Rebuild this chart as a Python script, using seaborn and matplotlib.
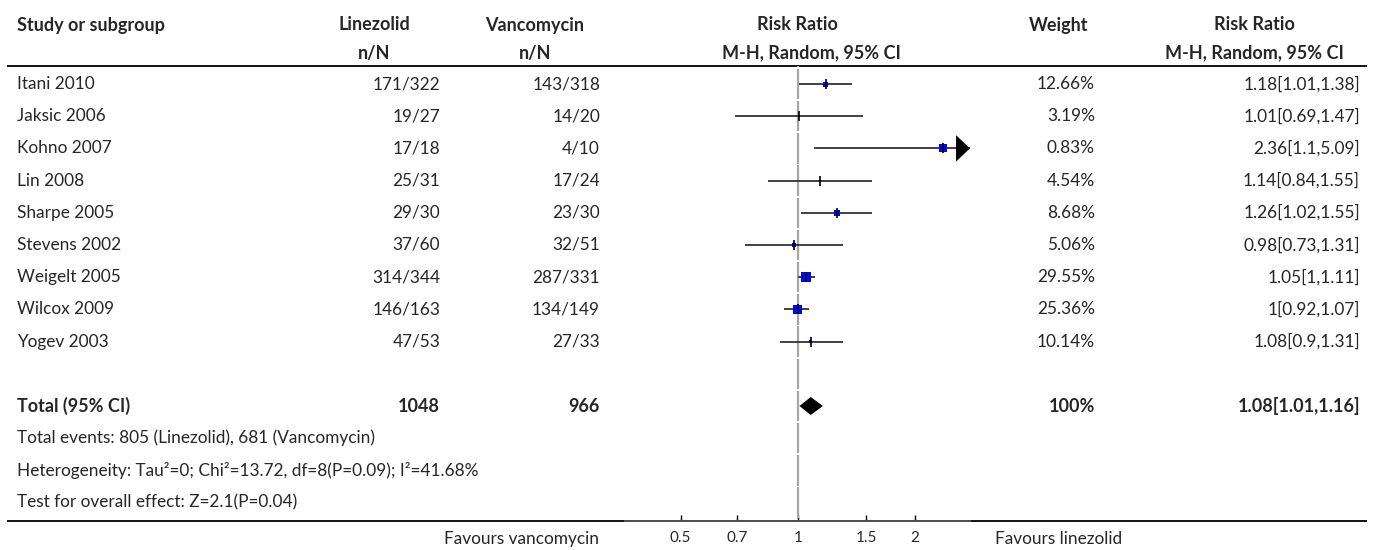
import numpy as np
import matplotlib
matplotlib.use("Agg")
import matplotlib.pyplot as plt
import seaborn as sns

# study level data
studies = ["Itani 2010", "Jaksic 2006", "Kohno 2007", "Lin 2008", "Sharpe 2005",
           "Stevens 2002", "Weigelt 2005", "Wilcox 2009", "Yogev 2003"]
linezolid_nN = ["171/322", "19/27", "17/18", "25/31", "29/30", "37/60", "314/344", "146/163", "47/53"]
vancomycin_nN = ["143/318", "14/20", "4/10", "17/24", "23/30", "32/51", "287/331", "134/149", "27/33"]
weights = [12.66, 3.19, 0.83, 4.54, 8.68, 5.06, 29.55, 25.36, 10.14]
rr = [1.18, 1.01, 2.36, 1.14, 1.26, 0.98, 1.05, 1.0, 1.08]
rr_lo = [1.01, 0.69, 1.1, 0.84, 1.02, 0.73, 1.0, 0.92, 0.9]
rr_hi = [1.38, 1.47, 5.09, 1.55, 1.55, 1.31, 1.11, 1.07, 1.31]

# pooled result
total_lin = 1048
total_van = 966
total_rr, total_lo, total_hi = 1.08, 1.01, 1.16
footnotes = [
    "Total events: 805 (Linezolid), 681 (Vancomycin)",
    "Heterogeneity: Tau\u00b2=0; Chi\u00b2=13.72, df=8(P=0.09); I\u00b2=41.68%",
    "Test for overall effect: Z=2.1(P=0.04)",
]
tick_vals = [0.5, 0.7, 1, 1.5, 2]
tick_labels = ["0.5", "0.7", "1", "1.5", "2"]

# drawn box sizes (pixels) as they appear in the reference
box_px = [5, 2, 8, 2, 6, 4, 10, 9, 3]

sns.set_theme(style="white")
plt.rcParams["font.family"] = ["Lato", "DejaVu Sans"]
FS = 12.4
FS_B = 13

W, H = 1375, 550
ROW0, PITCH = 84, 32.2          # pixel y of first study row and row pitch
def row(py):
    return (py - ROW0) / PITCH

fig = plt.figure(figsize=(W / 100, H / 100), dpi=100)

# full-figure axes for the table text
tab = fig.add_axes([0, 0, 1, 1])
tab.set_xlim(0, W)
tab.set_ylim(row(H), row(0))
tab.axis("off")

# forest axes
x_left, x_right = 625, 970
y_top, y_bot = 66, 521
ax = fig.add_axes([x_left / W, 1 - y_bot / H, (x_right - x_left) / W, (y_bot - y_top) / H])
ax.set_xscale("log")
ax.set_xlim(0.36, 2.77)
ax.set_ylim(row(y_bot), row(y_top))
ax.patch.set_alpha(0)

n = len(studies)
rows = np.arange(n)
total_row = n + 1

# column positions
X_STUDY, X_LIN, X_VAN, X_W, X_RR = 17, 440, 600, 1095, 1360
C_LIN, C_VAN, C_FOREST, C_W, C_RR = 374, 535, 797, 1059, 1254

bold = dict(fontsize=FS_B, fontweight="bold", va="center")
norm = dict(fontsize=FS, va="center")

# headers
hy1, hy2 = row(25), row(53)
tab.text(X_STUDY, hy1, "Study or subgroup", ha="left", **bold)
tab.text(C_LIN, hy1, "Linezolid", ha="center", **bold)
tab.text(C_LIN, hy2, "n/N", ha="center", **bold)
tab.text(C_VAN, hy1, "Vancomycin", ha="center", **bold)
tab.text(C_VAN, hy2, "n/N", ha="center", **bold)
tab.text(C_FOREST, hy1, "Risk Ratio", ha="center", **bold)
tab.text(C_FOREST + 14, hy2, "M-H, Random, 95% CI", ha="center", **bold)
tab.text(C_W, hy1, "Weight", ha="center", **bold)
tab.text(C_RR, hy1, "Risk Ratio", ha="center", **bold)
tab.text(C_RR, hy2, "M-H, Random, 95% CI", ha="center", **bold)

tab.hlines(row(y_top), 7, 1367, color="black", lw=1.3)
tab.hlines(row(y_bot), 7, 1367, color="black", lw=1.3)

# study rows
for i in range(n):
    tab.text(X_STUDY, i, studies[i], ha="left", **norm)
    tab.text(X_LIN, i, linezolid_nN[i], ha="right", **norm)
    tab.text(X_VAN, i, vancomycin_nN[i], ha="right", **norm)
    tab.text(X_W, i, f"{weights[i]:.2f}%", ha="right", **norm)
    tab.text(X_RR, i, f"{rr[i]:g}[{rr_lo[i]:g},{rr_hi[i]:g}]", ha="right", **norm)

# total row and footnotes
tab.text(X_STUDY, total_row, "Total (95% CI)", ha="left", **bold)
tab.text(X_LIN, total_row, str(total_lin), ha="right", **bold)
tab.text(X_VAN, total_row, str(total_van), ha="right", **bold)
tab.text(X_W, total_row, f"{sum(weights):.0f}%", ha="right", **bold)
tab.text(X_RR, total_row, f"{total_rr:g}[{total_lo:g},{total_hi:g}]", ha="right", **bold)
for k, line in enumerate(footnotes):
    tab.text(X_STUDY, total_row + 1 + k, line, ha="left", **norm)

# bottom labels
lab_y = row(539)
tab.text(522, lab_y, "Favours vancomycin", ha="center", **norm)
tab.text(995, lab_y, "Favours linezolid", ha="left", **norm)

# reference line at 1, drawn in segments per row
for r in range(-1, total_row + 4):
    ax.vlines(1, max(r - 0.47, row(y_top)), min(r + 0.47, row(y_bot)), color="#a6a6a6", lw=1.6, zorder=1)

# confidence intervals (clipped at the axis edge)
xmax = ax.get_xlim()[1]
ax.hlines(rows, rr_lo, np.minimum(rr_hi, xmax), color="#333333", lw=1.3, zorder=2)
sns.scatterplot(x=rr, y=rows, marker="s", s=[(b * 0.72) ** 2 for b in box_px],
                color="#0000ff", edgecolor="none", linewidth=0, ax=ax, zorder=3, legend=False)
ax.plot(rr, rows, ls="none", marker="|", markersize=6.5, mew=1.2, color="black", zorder=4)

# arrow for intervals running off the scale
for i in range(n):
    if rr_hi[i] > xmax:
        base = xmax / np.exp(14 / 169.5)
        ax.fill([base, xmax, base], [i - 0.41, i, i + 0.41], color="black", lw=0, zorder=5)

# pooled diamond
dh = 0.28
ax.fill([total_lo, total_rr, total_hi, total_rr],
        [total_row, total_row - dh, total_row, total_row + dh], color="black", lw=0, zorder=3)

ax.set_xticks(tick_vals)
ax.set_xticklabels(tick_labels)
ax.xaxis.set_minor_locator(matplotlib.ticker.NullLocator())
ax.set_yticks([])
ax.tick_params(axis="x", direction="in", length=4, width=1, color="black",
               labelsize=FS - 1.4, pad=7, bottom=True)
for s in ["top", "left", "right"]:
    ax.spines[s].set_visible(False)
ax.spines["bottom"].set_color("#555555")
ax.spines["bottom"].set_linewidth(1.3)
ax.grid(False)

fig.savefig("out.png", dpi=100)
